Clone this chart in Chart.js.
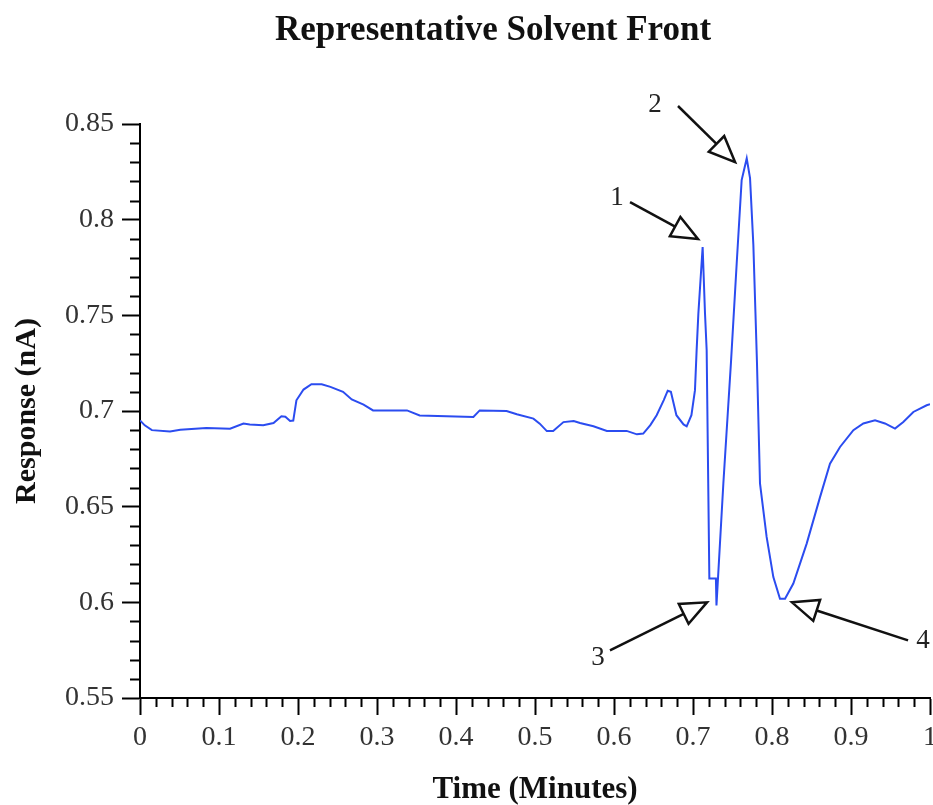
<!DOCTYPE html>
<html>
<head>
<meta charset="utf-8">
<script src="https://cdn.jsdelivr.net/npm/chart.js@4.4.1/dist/chart.umd.min.js"></script>
<style>
  html, body { margin: 0; padding: 0; background: #fff; }
  #wrap { width: 933px; height: 805px; position: relative; }
</style>
</head>
<body>
<div id="wrap"><canvas id="chart"></canvas></div>
<script>
// ── data ────────────────────────────────────────────────────────
const chartTitle = "Representative Solvent Front";
const xTitle = "Time (Minutes)";
const yTitle = "Response (nA)";

const xTickLabels = ["0", "0.1", "0.2", "0.3", "0.4", "0.5", "0.6", "0.7", "0.8", "0.9", "1"];
const yTickLabels = ["0.55", "0.6", "0.65", "0.7", "0.75", "0.8", "0.85"];

const timeMin = [
  0.000, 0.006, 0.015, 0.038, 0.051, 0.084, 0.114, 0.131, 0.139, 0.156,
  0.169, 0.179, 0.184, 0.190, 0.194, 0.198, 0.207, 0.217, 0.230, 0.241,
  0.257, 0.268, 0.283, 0.295, 0.338, 0.354, 0.388, 0.422, 0.430, 0.464,
  0.477, 0.498, 0.506, 0.515, 0.523, 0.536, 0.549, 0.557, 0.574, 0.591,
  0.616, 0.629, 0.637, 0.646, 0.654, 0.663, 0.668, 0.672, 0.679, 0.688,
  0.692, 0.698, 0.7025, 0.7046, 0.7068, 0.7122, 0.7152, 0.7173, 0.7207, 0.7290,
  0.7297, 0.7384, 0.7480, 0.7553, 0.7616, 0.7680, 0.7722, 0.7764, 0.7790, 0.7810,
  0.7848, 0.7932, 0.8017, 0.8101, 0.8165, 0.8270, 0.8439, 0.8608, 0.8734, 0.8861,
  0.9030, 0.9156, 0.9304, 0.9430, 0.9557, 0.9662, 0.9789, 0.9958, 1.000
];
const responseNA = [
  0.6951, 0.6925, 0.6900, 0.6893, 0.6902, 0.6911, 0.6907, 0.6934, 0.6930, 0.6925,
  0.6937, 0.6972, 0.6970, 0.6948, 0.6950, 0.7056, 0.7112, 0.7140, 0.7140, 0.7126,
  0.7100, 0.7060, 0.7033, 0.7003, 0.7003, 0.6977, 0.6972, 0.6969, 0.7003, 0.7000,
  0.6983, 0.6960, 0.6934, 0.6895, 0.6895, 0.6942, 0.6948, 0.6937, 0.6920, 0.6896,
  0.6896, 0.6878, 0.6882, 0.6926, 0.6978, 0.7057, 0.7106, 0.7100, 0.6978, 0.6930,
  0.6920, 0.6978, 0.7109, 0.7318, 0.7510, 0.7857, 0.7510, 0.7318, 0.6124, 0.6124,
  0.5984, 0.6620, 0.7250, 0.7771, 0.8207, 0.8320, 0.8217, 0.7868, 0.7520, 0.7250,
  0.6622, 0.6342, 0.6132, 0.6019, 0.6019, 0.6098, 0.6307, 0.6550, 0.6725, 0.6812,
  0.6900, 0.6935, 0.6952, 0.6935, 0.6908, 0.6943, 0.6995, 0.7030, 0.7035
];

// numbered callouts, in data units (tail -> head)
const calloutText  = ["1", "2", "3", "4"];
const calloutTailX = [0.6203, 0.6810, 0.5949, 0.9722];
const calloutTailY = [0.8092, 0.8594, 0.5749, 0.5801];
const calloutHeadX = [0.7063, 0.7532, 0.7177, 0.8253];
const calloutHeadY = [0.7899, 0.8301, 0.6000, 0.6000];
const calloutLblX  = [0.6038, 0.6520, 0.5797, 0.9910];
const calloutLblY  = [0.8113, 0.8599, 0.5712, 0.5801];

// ── styling ─────────────────────────────────────────────────────
const SERIF = "'Liberation Serif', 'Times New Roman', 'DejaVu Serif', serif";
const INK = "#000";
const TICK_TEXT = "#333";

// minor ticks: y every 0.01, x every 0.02
const minorTicks = {
  id: "minorTicks",
  afterDraw(chart) {
    const { ctx, scales: { x, y }, chartArea: a } = chart;
    ctx.save();
    ctx.strokeStyle = INK;
    ctx.lineWidth = 2;
    ctx.beginPath();
    for (let i = 1; i < 30; i++) {
      if (i % 5 === 0) continue;
      const py = Math.round(y.getPixelForValue(0.55 + i * 0.01)) + 0.5;
      ctx.moveTo(a.left - 10, py);
      ctx.lineTo(a.left, py);
    }
    for (let i = 1; i < 50; i++) {
      if (i % 5 === 0) continue;
      const px = Math.round(x.getPixelForValue(i * 0.02)) + 0.5;
      ctx.moveTo(px, a.bottom);
      ctx.lineTo(px, a.bottom + 9);
    }
    ctx.stroke();
    ctx.restore();
  }
};

// title sits a bit left of the plot centre, so draw it here
const titleText = {
  id: "titleText",
  afterDraw(chart) {
    const { ctx } = chart;
    ctx.save();
    ctx.font = "bold 35px " + SERIF;
    ctx.fillStyle = "#111";
    ctx.textAlign = "center";
    ctx.textBaseline = "middle";
    ctx.fillText(chartTitle, 493, 31);
    ctx.restore();
  }
};

// open-headed arrows with numbers
const callouts = {
  id: "callouts",
  afterDraw(chart) {
    const { ctx, scales: { x, y } } = chart;
    ctx.save();
    calloutText.forEach((t, i) => {
      const x0 = x.getPixelForValue(calloutTailX[i]), y0 = y.getPixelForValue(calloutTailY[i]);
      const x1 = x.getPixelForValue(calloutHeadX[i]), y1 = y.getPixelForValue(calloutHeadY[i]);
      const len = Math.hypot(x1 - x0, y1 - y0);
      const ux = (x1 - x0) / len, uy = (y1 - y0) / len;
      const hl = 26, hw = 11;
      const bx = x1 - ux * hl, by = y1 - uy * hl;

      ctx.strokeStyle = "#111";
      ctx.lineWidth = 2.5;
      ctx.beginPath();
      ctx.moveTo(x0, y0);
      ctx.lineTo(bx, by);
      ctx.stroke();

      ctx.beginPath();
      ctx.moveTo(x1, y1);
      ctx.lineTo(bx - uy * hw, by + ux * hw);
      ctx.lineTo(bx + uy * hw, by - ux * hw);
      ctx.closePath();
      ctx.fillStyle = "#fff";
      ctx.fill();
      ctx.stroke();

      ctx.font = "27px " + SERIF;
      ctx.fillStyle = "#222";
      ctx.textAlign = "center";
      ctx.textBaseline = "middle";
      ctx.fillText(t, x.getPixelForValue(calloutLblX[i]), y.getPixelForValue(calloutLblY[i]));
    });
    ctx.restore();
  }
};

new Chart(document.getElementById("chart"), {
  type: "line",
  data: {
    datasets: [{
      data: timeMin.map((t, i) => ({ x: t, y: responseNA[i] })),
      borderColor: "#2b4cf0",
      borderWidth: 2,
      pointRadius: 0,
      tension: 0,
      fill: false,
    }],
  },
  options: {
    responsive: true,
    maintainAspectRatio: false,
    animation: false,
    layout: { padding: { top: 124, right: 3, bottom: 0, left: 0 } },
    plugins: { legend: { display: false }, title: { display: false }, tooltip: { enabled: false } },
    scales: {
      x: {
        type: "linear",
        min: 0, max: 1,
        afterBuildTicks: s => { s.ticks = xTickLabels.map(v => ({ value: Number(v) })); },
        afterFit: s => { s.height = 107; s.paddingLeft = 0; s.paddingRight = 0; },
        ticks: {
          color: TICK_TEXT,
          font: { family: SERIF, size: 28 },
          padding: 6,
          maxRotation: 0,
          autoSkip: false,
          callback: (v, i) => xTickLabels[i],
        },
        grid: { drawOnChartArea: false, drawTicks: true, tickLength: 17, tickColor: INK, tickWidth: 2 },
        border: { display: true, color: INK, width: 2 },
        title: {
          display: true, text: xTitle, color: "#111",
          font: { family: SERIF, size: 31, weight: "bold", lineHeight: 1.0 },
          padding: { top: -2, bottom: 0 },
        },
      },
      y: {
        min: 0.55, max: 0.85,
        afterBuildTicks: s => { s.ticks = yTickLabels.map(v => ({ value: Number(v) })); },
        afterFit: s => { s.width = 140; s.paddingTop = 0; s.paddingBottom = 0; },
        ticks: {
          color: TICK_TEXT,
          font: { family: SERIF, size: 28 },
          padding: 8,
          autoSkip: false,
          callback: (v, i) => yTickLabels[i],
        },
        grid: { drawOnChartArea: false, drawTicks: true, tickLength: 18, tickColor: INK, tickWidth: 2 },
        border: { display: true, color: INK, width: 2 },
        title: {
          display: true, text: yTitle, color: "#111",
          font: { family: SERIF, size: 30, weight: "bold", lineHeight: 1.0 },
          padding: { top: 12, bottom: 0 },
        },
      },
    },
  },
  plugins: [minorTicks, titleText, callouts],
});
</script>
</body>
</html>
